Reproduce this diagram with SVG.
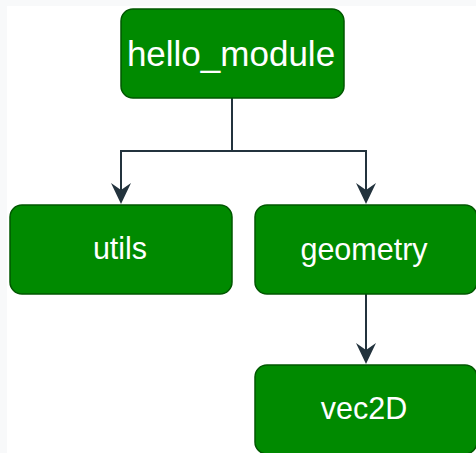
<svg xmlns="http://www.w3.org/2000/svg" width="476" height="453" viewBox="0 0 476 453">
  <style>
    .box { fill: #008a00; stroke: #005700; stroke-width: 1.5; }
    .lbl { fill: #ffffff; font-family: "Liberation Sans", Arial, sans-serif; text-anchor: middle; }
    .sub { font-size: 30.5px; }
    .edge { fill: none; stroke: #23333d; stroke-width: 2; }
    .head { fill: #23333d; }
  </style>
  <rect x="0" y="0" width="476" height="453" fill="#f8f9fa"/>
  <rect x="7" y="6" width="469" height="447" fill="#ffffff"/>
  <g id="connectors">
    <path class="edge" d="M232,98 V151 H121 V190"/>
    <path class="edge" d="M232,151 H366 V190"/>
    <path class="edge" d="M366,294 V350"/>
    <path class="head" d="M121,204 L111,183 L121,190 L131,183 Z"/>
    <path class="head" d="M366,204 L356,183 L366,190 L376,183 Z"/>
    <path class="head" d="M366,364 L356,343 L366,350 L376,343 Z"/>
  </g>
  <g id="hello_module">
    <rect class="box" x="121" y="9" width="223" height="89" rx="12" ry="12"/>
    <text class="lbl" x="231" y="66" font-size="35">hello_module</text>
  </g>
  <g id="utils">
    <rect class="box" x="10" y="205" width="222" height="89" rx="12" ry="12"/>
    <text class="lbl sub" x="120" y="259">utils</text>
  </g>
  <g id="geometry">
    <rect class="box" x="255" y="205" width="222" height="89" rx="12" ry="12"/>
    <text class="lbl sub" x="364" y="260">geometry</text>
  </g>
  <g id="vec2D">
    <rect class="box" x="255" y="365" width="222" height="89" rx="12" ry="12"/>
    <text class="lbl sub" x="364" y="419">vec2D</text>
  </g>
</svg>
